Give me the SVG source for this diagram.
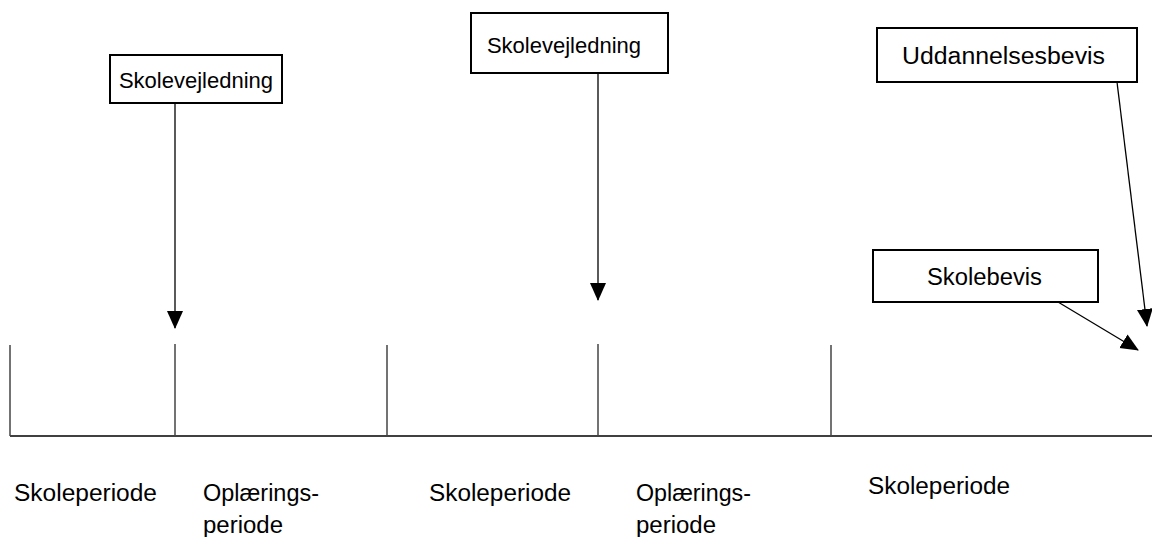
<svg xmlns="http://www.w3.org/2000/svg" width="1152" height="537" viewBox="0 0 1152 537">
<style>
.box{fill:#fff;stroke:#000;stroke-width:2}
.t{font-family:"Liberation Sans",Arial,sans-serif;font-size:23px;fill:#000}
.s{font-size:22px}
.c{stroke:#000;stroke-width:1.3;fill:none}
.tick{stroke:#444;stroke-width:1.5}
</style>
<defs>
<marker id="ah" markerUnits="userSpaceOnUse" markerWidth="18" markerHeight="18" viewBox="0 0 18 18" refX="17" refY="9" orient="auto">
<path d="M0,1 L18,9 L0,17 Z" fill="#000"/>
</marker>
</defs>
<g id="timeline">
<line class="c" x1="10" y1="436" x2="1152" y2="436"/>
<line class="tick" x1="10" y1="345" x2="10" y2="436"/>
<line class="tick" x1="175" y1="344" x2="175" y2="436"/>
<line class="tick" x1="387" y1="345" x2="387" y2="436"/>
<line class="tick" x1="598" y1="344" x2="598" y2="436"/>
<line class="tick" x1="831" y1="345" x2="831" y2="436"/>
</g>
<g id="connectors">
<line class="c" x1="175" y1="103" x2="175" y2="328" marker-end="url(#ah)"/>
<line class="c" x1="598" y1="73" x2="598" y2="300" marker-end="url(#ah)"/>
<line class="c" x1="1117" y1="82" x2="1147" y2="326" marker-end="url(#ah)"/>
<line class="c" x1="1058" y1="302" x2="1138" y2="350" marker-end="url(#ah)"/>
</g>
<g id="n1">
<rect class="box" x="110" y="55" width="172" height="48"/>
<text class="t s" x="196" y="88" text-anchor="middle">Skolevejledning</text>
</g>
<g id="n2">
<rect class="box" x="471" y="13" width="197" height="60"/>
<text class="t s" x="564" y="53" text-anchor="middle">Skolevejledning</text>
</g>
<g id="n3">
<rect class="box" x="877" y="28" width="260" height="54"/>
<text class="t" x="902" y="64" textLength="203" lengthAdjust="spacingAndGlyphs">Uddannelsesbevis</text>
</g>
<g id="n4">
<rect class="box" x="873" y="250" width="225" height="52"/>
<text class="t" x="927" y="285" textLength="115" lengthAdjust="spacingAndGlyphs">Skolebevis</text>
</g>
<g id="labels">
<text class="t" x="14" y="501" textLength="143" lengthAdjust="spacingAndGlyphs">Skoleperiode</text>
<text class="t" x="203" y="501" textLength="116" lengthAdjust="spacingAndGlyphs">Oplærings-</text>
<text class="t" x="203" y="533" textLength="80" lengthAdjust="spacingAndGlyphs">periode</text>
<text class="t" x="429" y="501" textLength="142" lengthAdjust="spacingAndGlyphs">Skoleperiode</text>
<text class="t" x="636" y="501" textLength="115" lengthAdjust="spacingAndGlyphs">Oplærings-</text>
<text class="t" x="636" y="533" textLength="80" lengthAdjust="spacingAndGlyphs">periode</text>
<text class="t" x="868" y="494" textLength="142" lengthAdjust="spacingAndGlyphs">Skoleperiode</text>
</g>
</svg>
